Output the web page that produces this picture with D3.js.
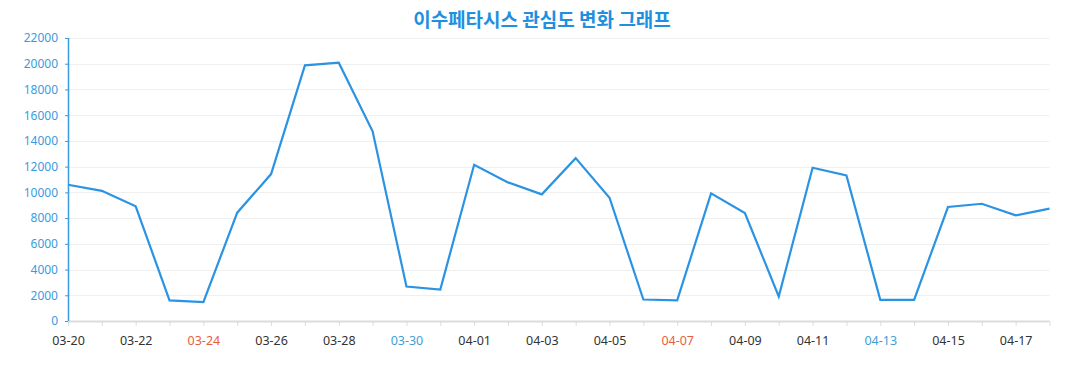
<!DOCTYPE html>
<html><head><meta charset="utf-8">
<script src="https://cdn.jsdelivr.net/npm/d3@7"></script>
<style>body{margin:0;background:#fff}svg{display:block}</style>
</head><body>
<svg id="c" width="1077" height="390"></svg>
<script>
const title = "이수페타시스 관심도 변화 그래프";
const dates = ["03-20","03-21","03-22","03-23","03-24","03-25","03-26","03-27","03-28","03-29",
  "03-30","03-31","04-01","04-02","04-03","04-04","04-05","04-06","04-07","04-08",
  "04-09","04-10","04-11","04-12","04-13","04-14","04-15","04-16","04-17","04-18"];
const values = [10590,10120,8915,1600,1470,8420,11420,19870,20080,14750,
  2680,2450,12140,10775,9845,12660,9580,1670,1600,9920,
  8395,1910,11910,11320,1650,1650,8860,9115,8215,8730];
const yTicks = [0,2000,4000,6000,8000,10000,12000,14000,16000,18000,20000,22000];
const sundays = ["03-24","04-07"];
const saturdays = ["03-30","04-13"];

const svg = d3.select("#c");
const m = {l:68, r:1049.5, t:38, b:321};
const x = d3.scalePoint().domain(dates).range([m.l, m.r]);
const y = d3.scaleLinear().domain([0,22000]).range([m.b, m.t]);

svg.append("text").attr("x",542).attr("y",27).attr("text-anchor","middle")
  .attr("font-family","'Noto Sans CJK KR','Noto Sans',sans-serif").attr("font-weight","bold")
  .attr("font-size",19).attr("fill","#1f8fe0").text(title);

// grid
svg.append("g").selectAll("line").data(yTicks.filter(d=>d>0)).join("line")
  .attr("x1",m.l).attr("x2",m.r).attr("y1",d=>Math.round(y(d))+0.5).attr("y2",d=>Math.round(y(d))+0.5)
  .attr("stroke","#efefef").attr("stroke-width",1);

// x axis
const xa = svg.append("g").attr("transform",`translate(0,${m.b})`)
  .call(d3.axisBottom(x).tickSize(5).tickPadding(10)
    .tickFormat((d,i)=> i%2===0 ? d : ""));
xa.select(".domain").attr("stroke","#dcdcdc").attr("stroke-width",2).attr("d",`M${m.l},0.5H${m.r}`);
xa.selectAll(".tick line").attr("stroke","#dcdcdc");
xa.selectAll(".tick text").attr("font-family","'Noto Sans','Open Sans',sans-serif").attr("font-size",12.5)
  .attr("fill",d=> sundays.includes(d) ? "#e5603f" : saturdays.includes(d) ? "#3fa0d4" : "#333");

// y axis
const ya = svg.append("g").attr("transform",`translate(${m.l},0)`)
  .call(d3.axisLeft(y).tickValues(yTicks).tickSize(3).tickPadding(7).tickFormat(d3.format("d")));
ya.select(".domain").attr("stroke","#3a9be0").attr("stroke-width",1.5).attr("d",`M0.5,${m.b}V${m.t}`);
ya.selectAll(".tick line").attr("stroke","#3a9be0");
ya.selectAll(".tick text").attr("font-family","'Noto Sans','Open Sans',sans-serif").attr("font-size",12)
  .attr("fill","#3a9be0");

// line
svg.append("path").datum(values)
  .attr("d", d3.line().x((d,i)=>x(dates[i])).y(d=>y(d)))
  .attr("fill","none").attr("stroke","#2b93e3").attr("stroke-width",2.2).attr("stroke-linejoin","miter");
</script>
</body></html>
